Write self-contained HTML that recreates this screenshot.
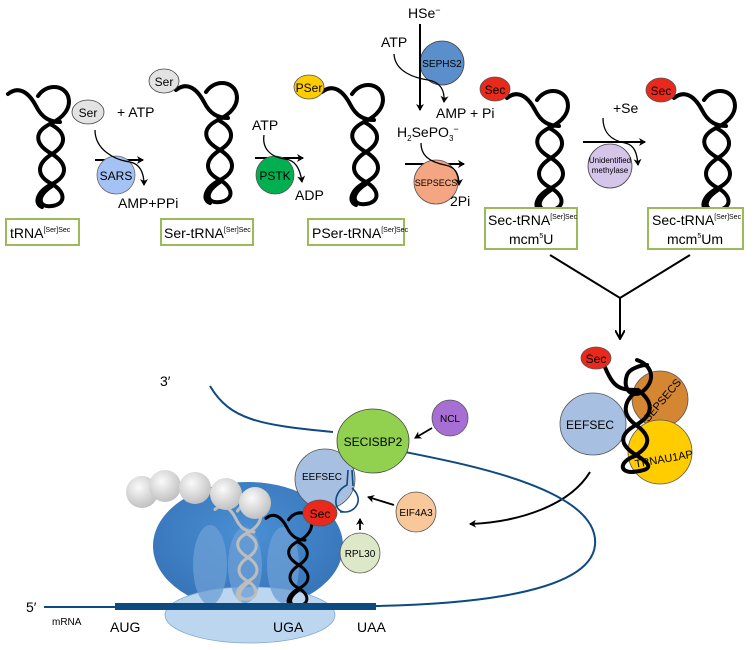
<!DOCTYPE html>
<html><head><meta charset="utf-8"><style>
html,body{margin:0;padding:0;background:#fff}
svg{display:block;font-family:"Liberation Sans",sans-serif}
</style></head><body>
<svg width="755" height="650" viewBox="0 0 755 650" xmlns="http://www.w3.org/2000/svg">
<defs>
<marker id="ah" markerWidth="8" markerHeight="8" refX="6" refY="4" orient="auto" markerUnits="userSpaceOnUse"><path d="M0,0 L7,4 L0,8 L2,4 Z" fill="#000"/></marker>
<marker id="ah2" markerWidth="10" markerHeight="10" refX="8" refY="5" orient="auto" markerUnits="userSpaceOnUse"><path d="M0,0 L9,5 L0,10" fill="none" stroke="#000" stroke-width="2"/></marker>
<g id="trna" fill="none" stroke-width="4" stroke-linecap="round" stroke-linejoin="round">
<path d="M0,8 C10,0 20,5 28,20 C34,32 42,36 52,36"/>
<path d="M30,10 C38,-2 55,-2 60,10 C64,22 55,32 42,38"/>
<path d="M42,38 C58,46 60,58 44,68 C28,78 28,90 44,98 C58,106 58,118 44,120 C30,122 28,110 44,100"/>
<path d="M42,38 C26,46 26,58 44,68 C60,78 60,90 44,98 C28,106 26,118 34,121"/>
</g>
<radialGradient id="ball" cx="0.4" cy="0.35" r="0.7"><stop offset="0" stop-color="#fafafa"/><stop offset="1" stop-color="#bdbdbd"/></radialGradient>
<radialGradient id="ribo" cx="0.5" cy="0.4" r="0.6"><stop offset="0" stop-color="#4a8fd4"/><stop offset="1" stop-color="#3774b8"/></radialGradient>
</defs>

<!-- tRNAs top -->
<use href="#trna" stroke="#000" transform="translate(8,86)"/>
<use href="#trna" stroke="#000" transform="translate(176,82)"/>
<use href="#trna" stroke="#000" transform="translate(322,84)"/>
<use href="#trna" stroke="#000" transform="translate(507,90)"/>
<use href="#trna" stroke="#000" transform="translate(674,90)"/>

<!-- label boxes -->
<g fill="#fff" stroke="#9bbb59" stroke-width="2">
<rect x="6" y="219" width="73" height="26"/>
<rect x="161" y="219" width="92" height="26"/>
<rect x="308" y="219" width="96" height="26"/>
<rect x="485" y="208" width="92" height="41"/>
<rect x="648" y="208" width="95" height="41"/>
</g>
<g font-size="14" fill="#000">
<text x="10" y="238">tRNA<tspan font-size="7" dy="-6">[Ser]Sec</tspan></text>
<text x="164" y="238">Ser-tRNA<tspan font-size="7" dy="-6">[Ser]Sec</tspan></text>
<text x="312" y="238">PSer-tRNA<tspan font-size="7" dy="-6">[Ser]Sec</tspan></text>
<text x="488" y="225">Sec-tRNA<tspan font-size="7" dy="-6">[Ser]Sec</tspan></text>
<text x="509" y="244">mcm<tspan font-size="7" dy="-6">5</tspan><tspan dy="6">U</tspan></text>
<text x="652" y="225">Sec-tRNA<tspan font-size="7" dy="-6">[Ser]Sec</tspan></text>
<text x="667" y="244">mcm<tspan font-size="7" dy="-6">5</tspan><tspan dy="6">Um</tspan></text>
</g>

<!-- step 1 -->
<ellipse cx="88" cy="112" rx="16" ry="12" fill="#e3e3e3" stroke="#444" stroke-width="0.8"/>
<text x="88" y="117" font-size="12" text-anchor="middle">Ser</text>
<text x="117" y="117" font-size="14">+ ATP</text>
<line x1="95" y1="160" x2="143" y2="160" stroke="#000" stroke-width="2" marker-end="url(#ah)"/>
<circle cx="116" cy="175" r="19" fill="#a4c2f4" stroke="#666" stroke-width="0.8"/>
<text x="116" y="180" font-size="12" text-anchor="middle">SARS</text>
<path d="M95,130 C95,150 115,160 130,162 C140,164 144,172 144,185" fill="none" stroke="#000" stroke-width="1.3" marker-end="url(#ah)"/>
<text x="118" y="208" font-size="14">AMP+PPi</text>
<ellipse cx="164" cy="81" rx="15" ry="12" fill="#e3e3e3" stroke="#444" stroke-width="0.8"/>
<text x="164" y="86" font-size="12" text-anchor="middle">Ser</text>

<!-- step 2 -->
<text x="252" y="130" font-size="14">ATP</text>
<line x1="255" y1="158" x2="303" y2="158" stroke="#000" stroke-width="2" marker-end="url(#ah)"/>
<circle cx="275" cy="175" r="19" fill="#00b050" stroke="#555" stroke-width="0.8"/>
<text x="275" y="180" font-size="12" text-anchor="middle">PSTK</text>
<path d="M264,135 C262,148 270,157 285,159 C295,160 300,168 302,182" fill="none" stroke="#000" stroke-width="1.3" marker-end="url(#ah)"/>
<text x="295" y="200" font-size="14">ADP</text>
<ellipse cx="309" cy="87" rx="15" ry="12" fill="#ffcc00" stroke="#555" stroke-width="0.8"/>
<text x="309" y="92" font-size="12" text-anchor="middle">PSer</text>

<!-- step 3 -->
<text x="408" y="18" font-size="14">HSe<tspan font-size="9" dy="-5">−</tspan></text>
<circle cx="442" cy="63" r="22" fill="#5b8fcb" stroke="#444" stroke-width="0.8"/>
<text x="442" y="67" font-size="10" text-anchor="middle">SEPHS2</text>
<line x1="420" y1="24" x2="420" y2="110" stroke="#000" stroke-width="2" marker-end="url(#ah)"/>
<text x="381" y="47" font-size="14">ATP</text>
<path d="M394,54 C395,72 415,78 428,80 C440,82 445,90 444,102" fill="none" stroke="#000" stroke-width="1.3" marker-end="url(#ah)"/>
<text x="436" y="118" font-size="14">AMP + Pi</text>
<text x="397" y="137" font-size="14">H<tspan font-size="8" dy="4">2</tspan><tspan dy="-4">SePO</tspan><tspan font-size="8" dy="4">3</tspan><tspan font-size="9" dy="-9">−</tspan></text>
<line x1="405" y1="164" x2="464" y2="164" stroke="#000" stroke-width="2" marker-end="url(#ah)"/>
<circle cx="436" cy="182" r="22" fill="#f4a582" stroke="#555" stroke-width="0.8"/>
<text x="436" y="186" font-size="9" text-anchor="middle">SEPSECS</text>
<path d="M421,143 C421,156 430,162 445,165 C455,167 459,173 459,185" fill="none" stroke="#000" stroke-width="1.3" marker-end="url(#ah)"/>
<text x="450" y="206" font-size="14">2Pi</text>
<ellipse cx="495" cy="89" rx="15" ry="12" fill="#e8291c" stroke="#555" stroke-width="0.8"/>
<text x="495" y="94" font-size="12" text-anchor="middle">Sec</text>

<!-- step 4 -->
<text x="613" y="113" font-size="14">+Se</text>
<line x1="583" y1="142" x2="645" y2="142" stroke="#000" stroke-width="2" marker-end="url(#ah)"/>
<circle cx="610" cy="166" r="22" fill="#d5c5ea" stroke="#444" stroke-width="0.8"/>
<text x="610" y="163" font-size="8" text-anchor="middle">Unidentified</text>
<text x="610" y="173" font-size="8" text-anchor="middle">methylase</text>
<path d="M603,118 C603,132 610,140 625,143 C634,145 637,152 638,165" fill="none" stroke="#000" stroke-width="1.3" marker-end="url(#ah)"/>
<ellipse cx="661" cy="90" rx="15" ry="12" fill="#e8291c" stroke="#555" stroke-width="0.8"/>
<text x="661" y="95" font-size="12" text-anchor="middle">Sec</text>

<!-- Y connector -->
<path d="M550,255 L620,298 L690,255" fill="none" stroke="#000" stroke-width="2"/>
<line x1="620" y1="298" x2="620" y2="338" stroke="#000" stroke-width="2" marker-end="url(#ah2)"/>

<!-- complex right -->
<ellipse cx="593" cy="424" rx="33" ry="31" fill="#a7bfe0" stroke="#555" stroke-width="0.8"/>
<text x="590" y="429" font-size="12" text-anchor="middle">EEFSEC</text>
<circle cx="660" cy="399" r="28" fill="#d58632" stroke="#555" stroke-width="0.8"/>
<text x="662" y="404" font-size="11" text-anchor="middle" transform="rotate(-50 662 400)">SEPSECS</text>
<circle cx="660" cy="452" r="32" fill="#ffcc00" stroke="#555" stroke-width="0.8"/>
<text x="664" y="463" font-size="11" text-anchor="middle" transform="rotate(-10 662 460)">TRNAU1AP</text>
<g transform="translate(602,360)" fill="none" stroke="#000" stroke-width="4" stroke-linecap="round">
<path d="M0,0 C10,25 14,30 34,30"/>
<path d="M35,0 C50,5 55,20 40,32 C30,38 20,30 25,15 C28,8 40,5 45,5"/>
<path d="M36,30 C52,42 52,55 34,65 S18,85 34,95 S52,110 30,112 C16,112 18,100 36,95"/>
<path d="M36,30 C20,42 20,55 34,65 S50,85 34,95"/>
</g>
<ellipse cx="596" cy="358" rx="15" ry="11" fill="#e8291c" stroke="#555" stroke-width="0.8"/>
<text x="596" y="363" font-size="12" text-anchor="middle">Sec</text>
<path d="M590,472 C570,505 520,522 470,524" fill="none" stroke="#000" stroke-width="2" marker-end="url(#ah)"/>

<!-- mRNA blue line -->
<path d="M210,386 C230,420 260,425 333,432" fill="none" stroke="#0d4a80" stroke-width="2"/>
<path d="M405,452 C470,465 600,490 595,545 C590,600 430,605 375,606" fill="none" stroke="#0d4a80" stroke-width="2"/>
<line x1="44" y1="607" x2="118" y2="607" stroke="#0d4a80" stroke-width="2"/>
<text x="160" y="386" font-size="14">3′</text>
<text x="26" y="612" font-size="14">5′</text>

<!-- ribosome -->
<ellipse cx="248" cy="546" rx="95" ry="64" fill="url(#ribo)"/>
<ellipse cx="250" cy="615" rx="85" ry="28" fill="#bcd6f0" stroke="#7fa8d4" stroke-width="0.8"/>
<g fill="#6d9fd6" opacity="0.75">
<ellipse cx="210" cy="565" rx="17" ry="40"/>
<ellipse cx="245" cy="565" rx="17" ry="38"/>
<ellipse cx="283" cy="565" rx="16" ry="38"/>
</g>
<g transform="translate(215,503)">
<use href="#trna" stroke="#bdbdbd" transform="scale(0.75,0.8)"/>
</g>
<g fill="url(#ball)">
<circle cx="142" cy="492" r="16"/><circle cx="165" cy="486" r="16"/><circle cx="195" cy="488" r="16"/><circle cx="226" cy="494" r="16"/><circle cx="255" cy="503" r="16"/>
</g>
<g transform="translate(266,512)">
<use href="#trna" stroke="#000" transform="scale(0.75,0.78)"/>
</g>
<rect x="115" y="603" width="261" height="7" fill="#0d4a80"/>
<text x="52" y="625" font-size="10">mRNA</text>
<text x="110" y="632" font-size="14">AUG</text>
<text x="273" y="632" font-size="14">UGA</text>
<text x="357" y="632" font-size="14">UAA</text>

<!-- SECIS complex -->
<circle cx="325" cy="479" r="30" fill="#a7bfe0" stroke="#555" stroke-width="0.8"/>
<text x="322" y="480" font-size="10" text-anchor="middle">EEFSEC</text>
<path d="M348,470 L347,485 C332,492 333,512 345,512 C355,512 365,500 352,488 M352,470 L353,486 M345,512 L340,512" fill="none" stroke="#0d4a80" stroke-width="1.6"/>
<ellipse cx="373" cy="441" rx="36" ry="32" fill="#92d050" stroke="#444" stroke-width="0.8"/>
<text x="373" y="446" font-size="12" text-anchor="middle">SECISBP2</text>
<ellipse cx="320" cy="513" rx="17" ry="13" fill="#e8291c" stroke="#555" stroke-width="0.8"/>
<text x="320" y="518" font-size="12" text-anchor="middle">Sec</text>
<circle cx="450" cy="418" r="18" fill="#a76fd3" stroke="#555" stroke-width="0.8"/>
<text x="450" y="422" font-size="10" text-anchor="middle">NCL</text>
<line x1="432" y1="428" x2="415" y2="438" stroke="#000" stroke-width="1.8" marker-end="url(#ah)"/>
<circle cx="416" cy="512" r="20" fill="#f8c79a" stroke="#555" stroke-width="0.8"/>
<text x="416" y="516" font-size="10" text-anchor="middle">EIF4A3</text>
<line x1="394" y1="505" x2="368" y2="497" stroke="#000" stroke-width="1.8" marker-end="url(#ah)"/>
<circle cx="360" cy="553" r="20" fill="#dde8c8" stroke="#555" stroke-width="0.8"/>
<text x="360" y="557" font-size="10" text-anchor="middle">RPL30</text>
<line x1="360" y1="530" x2="360" y2="519" stroke="#000" stroke-width="1.8" marker-end="url(#ah)"/>
</svg>
</body></html>
